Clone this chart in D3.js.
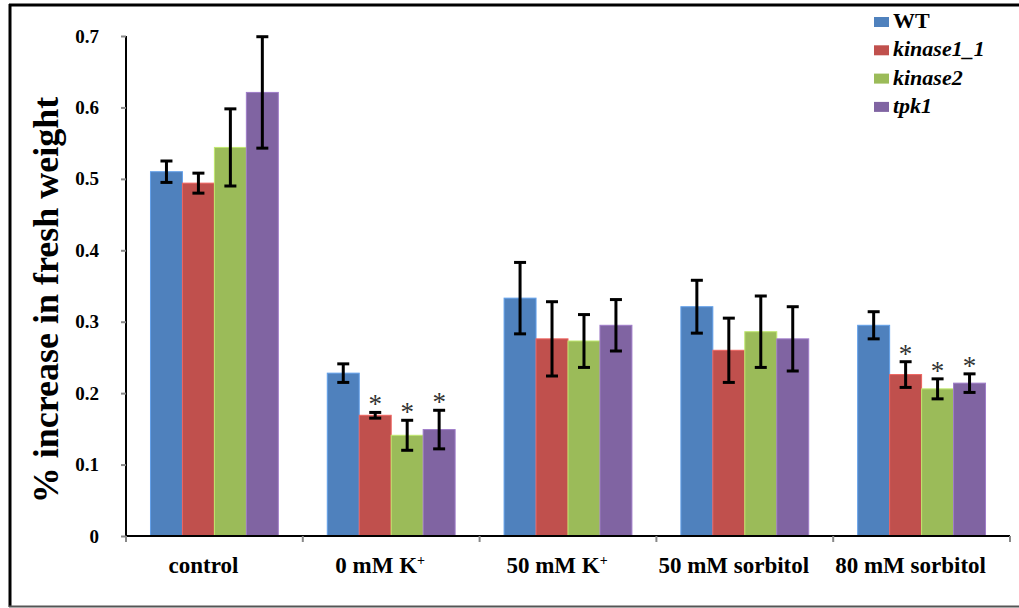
<!DOCTYPE html>
<html>
<head>
<meta charset="utf-8">
<script src="https://cdn.jsdelivr.net/npm/d3@7"></script>
<style>
  body { margin: 0; background: #fff; }
  svg { display: block; }
  text { font-family: "Liberation Serif", "Times New Roman", serif; font-weight: bold; }
</style>
</head>
<body>
<svg id="chart" width="1019" height="608"></svg>
<script>

//
// Data
//
var categories = ['control', '0 mM K', '50 mM K', '50 mM sorbitol', '80 mM sorbitol'];
var superscripts = ['', '+', '+', '', ''];
var series = ['WT', 'kinase1_1', 'kinase2', 'tpk1'];
var colors = ['#4F81BD', '#C0504D', '#9BBB59', '#8064A2'];

// mean per category, one array per series
var wt        = [0.510, 0.228, 0.333, 0.321, 0.295];
var kinase1_1 = [0.494, 0.169, 0.276, 0.260, 0.226];
var kinase2   = [0.544, 0.141, 0.273, 0.286, 0.206];
var tpk1      = [0.621, 0.149, 0.295, 0.276, 0.214];

// error bar half widths
var wt_err        = [0.015, 0.013, 0.050, 0.037, 0.019];
var kinase1_1_err = [0.014, 0.004, 0.052, 0.045, 0.018];
var kinase2_err   = [0.054, 0.021, 0.037, 0.050, 0.014];
var tpk1_err      = [0.078, 0.027, 0.036, 0.045, 0.013];

// significance stars
var wt_sig        = [0, 0, 0, 0, 0];
var kinase1_1_sig = [0, 1, 0, 0, 1];
var kinase2_sig   = [0, 1, 0, 0, 1];
var tpk1_sig      = [0, 1, 0, 0, 1];

var y_ticks = [0, 0.1, 0.2, 0.3, 0.4, 0.5, 0.6, 0.7];
var y_title = '% increase in fresh weight';

var values = [wt, kinase1_1, kinase2, tpk1];
var errors = [wt_err, kinase1_1_err, kinase2_err, tpk1_err];
var sigs = [wt_sig, kinase1_1_sig, kinase2_sig, tpk1_sig];

var rows = [];
categories.forEach(function (c, ci) {
    series.forEach(function (s, si) {
        rows.push({cat: c, ser: s, si: si, v: values[si][ci], e: errors[si][ci], sig: sigs[si][ci]});
    });
});

//
// Layout
//
var svg = d3.select('#chart');

var plot_left = 126, plot_right = 1010, plot_top = 36, plot_bottom = 536;

var x0 = d3.scaleBand().domain(categories).range([plot_left, plot_right]).padding(0);
var x1 = d3.scaleBand().domain(series).range([0, x0.bandwidth()]).paddingInner(0).paddingOuter(0.766);
var y = d3.scaleLinear().domain([0, 0.7]).range([plot_bottom, plot_top]);

// frame
svg.append('line').attr('x1', 9).attr('x2', 1019).attr('y1', 5).attr('y2', 5)
    .attr('stroke', '#000').attr('stroke-width', 3);
svg.append('line').attr('x1', 10).attr('x2', 10).attr('y1', 4).attr('y2', 607)
    .attr('stroke', '#000').attr('stroke-width', 3);
svg.append('line').attr('x1', 9).attr('x2', 1019).attr('y1', 606.5).attr('y2', 606.5)
    .attr('stroke', '#555').attr('stroke-width', 2);

// bars
svg.append('g').selectAll('rect')
    .data(rows)
    .enter()
    .append('rect')
    .attr('x', function (d) { return x0(d.cat) + x1(d.ser); })
    .attr('y', function (d) { return y(d.v); })
    .attr('width', x1.bandwidth())
    .attr('height', function (d) { return y(0) - y(d.v); })
    .attr('fill', function (d) { return colors[d.si]; })
    .attr('stroke', function (d) { return d3.rgb(colors[d.si]).brighter(0.6); })
    .attr('stroke-width', 1);

// error bars
var eb = svg.append('g').attr('stroke', '#000').attr('stroke-width', 3);
rows.forEach(function (d) {
    var cx = x0(d.cat) + x1(d.ser) + x1.bandwidth() / 2;
    var y1 = y(d.v + d.e), y2 = y(d.v - d.e);
    eb.append('line').attr('x1', cx).attr('x2', cx).attr('y1', y1).attr('y2', y2);
    eb.append('line').attr('x1', cx - 6).attr('x2', cx + 6).attr('y1', y1).attr('y2', y1);
    eb.append('line').attr('x1', cx - 6).attr('x2', cx + 6).attr('y1', y2).attr('y2', y2);
});

// stars
svg.append('g').selectAll('text')
    .data(rows.filter(function (d) { return d.sig; }))
    .enter()
    .append('text')
    .attr('x', function (d) { return x0(d.cat) + x1(d.ser) + x1.bandwidth() / 2; })
    .attr('y', function (d) { return y(d.v + d.e) + 1; })
    .attr('text-anchor', 'middle')
    .style('font-weight', 'normal')
    .style('font-size', '27px')
    .attr('fill', '#333')
    .text('*');

// y axis
var yAxis = svg.append('g').attr('transform', 'translate(' + plot_left + ',0)')
    .call(d3.axisLeft(y).tickValues(y_ticks).tickSize(5).tickPadding(22)
        .tickFormat(function (d) { return d === 0 ? '0' : d3.format('.1f')(d); }));
yAxis.select('.domain').attr('stroke', '#000').attr('stroke-width', 2)
    .attr('d', 'M0,' + plot_top + 'V' + plot_bottom);
yAxis.selectAll('.tick line').attr('stroke', '#888').attr('stroke-width', 2);
yAxis.selectAll('.tick text').style('font-size', '19px').attr('fill', '#000')
    .style('font-family', '"Liberation Serif", serif');

// x axis
var xAxis = svg.append('g').attr('transform', 'translate(0,' + plot_bottom + ')')
    .call(d3.axisBottom(x0).tickSize(0).tickFormat(''));
xAxis.select('.domain').attr('stroke', '#000').attr('stroke-width', 2)
    .attr('d', 'M' + plot_left + ',0H' + plot_right);
var bounds = categories.map(function (c) { return x0(c); }).concat([plot_right]);
xAxis.selectAll('.bound')
    .data(bounds)
    .enter()
    .append('line')
    .attr('class', 'bound')
    .attr('x1', function (d) { return d; })
    .attr('x2', function (d) { return d; })
    .attr('y1', 0).attr('y2', 6)
    .attr('stroke', '#888').attr('stroke-width', 2);

// category labels sit a little left of the band centre, as in the original
var labels = svg.append('g').selectAll('text')
    .data(categories)
    .enter()
    .append('text')
    .attr('x', function (d) { return x0(d) + x0.bandwidth() / 2 - 11; })
    .attr('y', 573)
    .attr('text-anchor', 'middle')
    .style('font-size', '23px')
    .attr('fill', '#000');
labels.append('tspan').text(function (d) { return d; });
labels.append('tspan')
    .attr('dy', -8)
    .style('font-size', '14px')
    .text(function (d, i) { return superscripts[i]; });

// y title
svg.append('text')
    .attr('transform', 'translate(58,300) rotate(-90)')
    .attr('text-anchor', 'middle')
    .style('font-size', '36px')
    .attr('fill', '#000')
    .text(y_title);

// legend
var legend = svg.append('g').selectAll('g')
    .data(series)
    .enter()
    .append('g')
    .attr('transform', function (d, i) { return 'translate(874,' + (28 + i * 28.3) + ')'; });
legend.append('rect')
    .attr('x', 0).attr('y', -11)
    .attr('width', 15).attr('height', 10)
    .attr('fill', function (d, i) { return colors[i]; });
legend.append('text')
    .attr('x', 19).attr('y', 0)
    .style('font-size', '22px')
    .style('font-style', function (d, i) { return i === 0 ? 'normal' : 'italic'; })
    .attr('fill', '#000')
    .text(function (d) { return d; });

</script>
</body>
</html>
